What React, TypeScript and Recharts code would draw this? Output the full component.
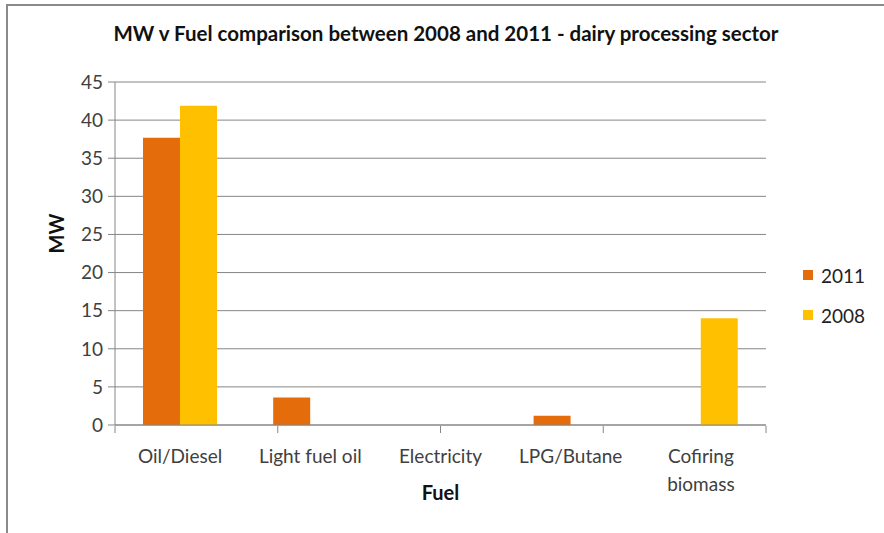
import React from 'react';
import { BarChart, Bar, XAxis, YAxis, CartesianGrid, Legend } from 'recharts';

const fuels = ['Oil/Diesel', 'Light fuel oil', 'Electricity', 'LPG/Butane', 'Cofiring\nbiomass'];
const mw2011 = [37.7, 3.6, 0, 1.2, 0];
const mw2008 = [41.9, 0, 0, 0, 14];
const yTicks = [0, 5, 10, 15, 20, 25, 30, 35, 40, 45];
const bandEdges = [0, 1, 2, 3, 4, 5];

const seriesInfo = [
  { key: 'y2011', name: '2011', color: '#E46C0A' },
  { key: 'y2008', name: '2008', color: '#FFC000' },
];

const FONT = 'Lato, "Noto Sans", sans-serif';
const AXIS_COLOR = '#868686';

const chartData = fuels.map((fuel, i) => ({
  fuel,
  y2011: mw2011[i],
  y2008: mw2008[i],
}));

// category label, split on \n like Excel wraps it
const FuelTick = (props: any) => {
  const { x, y, payload } = props;
  const lines = String(payload.value).split('\n');
  return (
    <text x={x} y={y} textAnchor="middle" fill="#404040" fontSize={19} fontFamily={FONT}>
      {lines.map((line, i) => (
        <tspan key={i} x={x} dy={i === 0 ? 30 : 28}>
          {line}
        </tspan>
      ))}
    </text>
  );
};

const LegendBox = () => (
  <div style={{ fontFamily: FONT, fontSize: 19, color: '#222' }}>
    {seriesInfo.map((s) => (
      <div key={s.key} style={{ display: 'flex', alignItems: 'center', height: 40 }}>
        <span style={{ width: 10, height: 10, background: s.color, marginRight: 8, display: 'inline-block' }} />
        {s.name}
      </div>
    ))}
  </div>
);

const App: React.FC = () => {
  return (
    <div style={{ position: 'absolute', left: 0, top: 0, width: 884, height: 533, overflow: 'hidden', background: '#fff' }}>
      {/* chart border, clipped on the right and bottom */}
      <div
        style={{
          position: 'absolute',
          left: 6,
          top: 4,
          width: 920,
          height: 600,
          border: '2px solid #8a8a8a',
          boxSizing: 'border-box',
        }}
      />
      <div
        style={{
          position: 'absolute',
          left: 0,
          top: 21,
          width: 884,
          textAlign: 'center',
          paddingLeft: 8,
          boxSizing: 'border-box',
          fontFamily: FONT,
          fontWeight: 'bold',
          fontSize: 20.5,
          color: '#111',
        }}
      >
        MW v Fuel comparison between 2008 and 2011 - dairy processing sector
      </div>
      <div style={{ position: 'absolute', left: 0, top: 0 }}>
        <BarChart
          width={884}
          height={533}
          data={chartData}
          margin={{ top: 82, right: 118, bottom: 0, left: 55 }}
          barCategoryGap="21.5%"
          barGap={0}
        >
          <CartesianGrid vertical={false} stroke={AXIS_COLOR} strokeWidth={1} />
          <XAxis
            dataKey="fuel"
            xAxisId="cat"
            tick={<FuelTick />}
            tickLine={false}
            axisLine={{ stroke: AXIS_COLOR }}
            height={1}
            interval={0}
            label={{
              value: 'Fuel',
              position: 'bottom',
              offset: 60,
              fill: '#111',
              fontSize: 20,
              fontWeight: 'bold',
              fontFamily: FONT,
            }}
          />
          <XAxis
            xAxisId="edges"
            type="number"
            domain={[0, 5]}
            ticks={bandEdges}
            tickFormatter={() => ''}
            tickSize={7}
            tickLine={{ stroke: AXIS_COLOR }}
            axisLine={false}
            height={107}
          />
          <YAxis
            domain={[0, 45]}
            ticks={yTicks}
            interval={0}
            width={60}
            tickSize={7}
            tickMargin={5}
            tickLine={{ stroke: AXIS_COLOR }}
            axisLine={{ stroke: AXIS_COLOR }}
            tick={{ fill: '#404040', fontSize: 19, fontFamily: FONT }}
            label={{
              value: 'MW',
              angle: -90,
              position: 'insideLeft',
              offset: 0,
              dx: 2,
              fill: '#111',
              fontSize: 20,
              fontWeight: 'bold',
              fontFamily: FONT,
            }}
          />
          {seriesInfo.map((s) => (
            <Bar key={s.key} xAxisId="cat" dataKey={s.key} name={s.name} fill={s.color} isAnimationActive={false} />
          ))}
          <Legend
            content={<LegendBox />}
            layout="vertical"
            verticalAlign="middle"
            align="center"
            wrapperStyle={{ left: 803, top: 255, width: 80 }}
          />
        </BarChart>
      </div>
    </div>
  );
};

export default App;
